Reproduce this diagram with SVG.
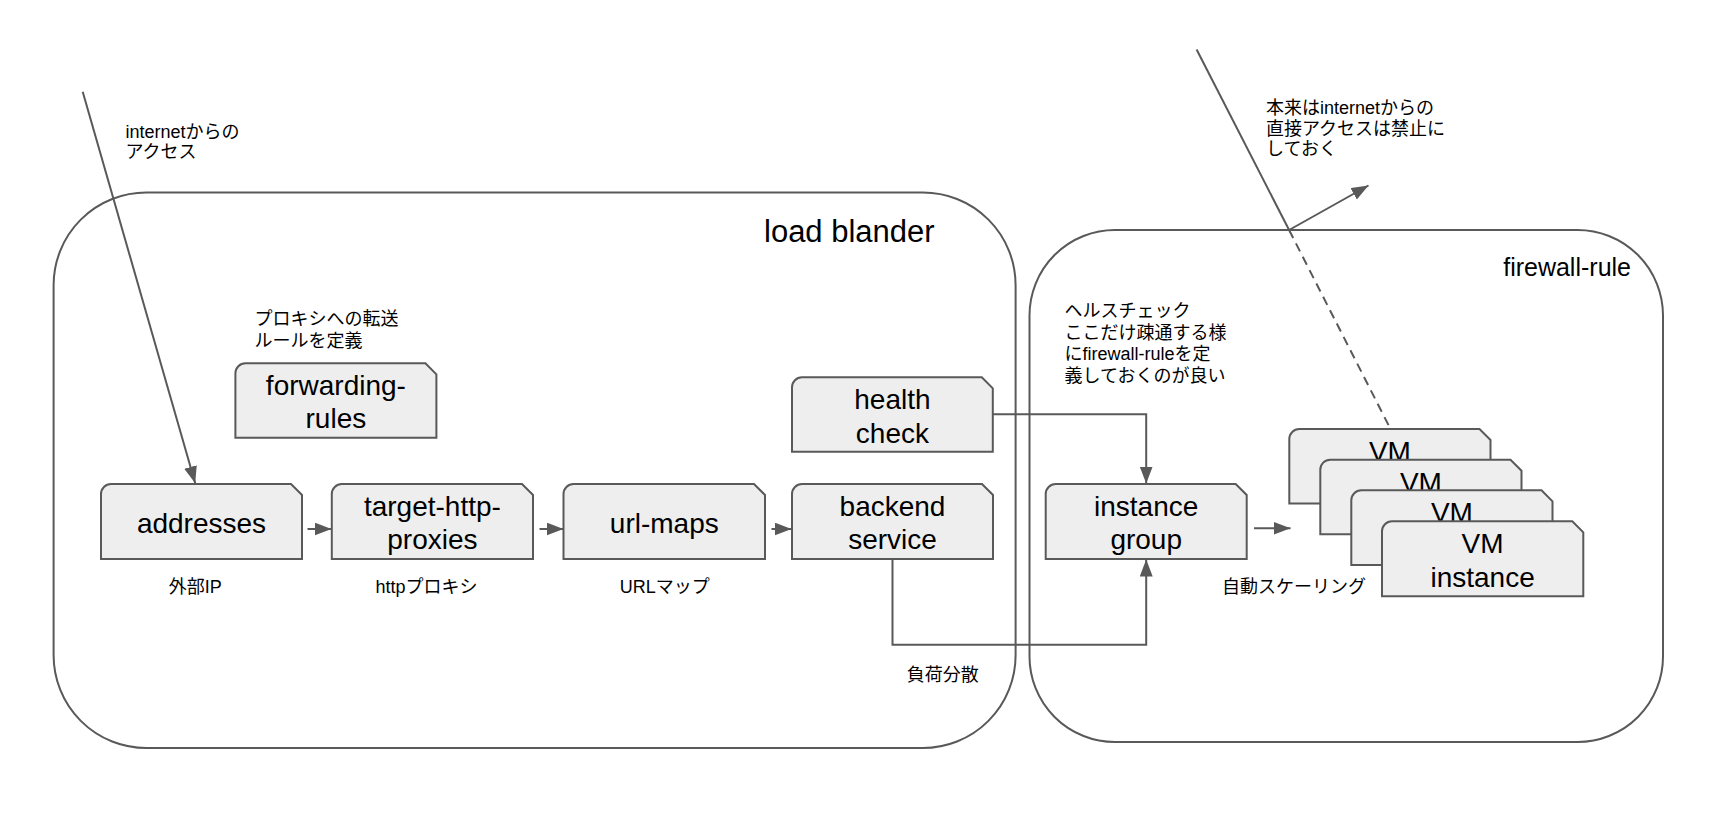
<svg xmlns="http://www.w3.org/2000/svg" width="1722" height="836" viewBox="0 0 1722 836">
<style>
.container{fill:none;stroke:#595959;stroke-width:2}
.node path{fill:#eeeeee;stroke:#595959;stroke-width:2}
.node text{font-family:"Liberation Sans",Arial,sans-serif;font-size:28px;fill:#000;text-anchor:middle}
.big{font-family:"Liberation Sans",Arial,sans-serif;fill:#000}
.note{font-family:"Liberation Sans","Noto Sans CJK JP",sans-serif;font-size:18px;fill:#000}
.mid{text-anchor:middle}
.conn{fill:none;stroke:#595959;stroke-width:2}
</style>
<defs>
<marker id="arrow" markerUnits="userSpaceOnUse" markerWidth="18" markerHeight="14" refX="17" refY="6.5" orient="auto">
<path d="M0,0 L17,6.5 L0,13 Z" fill="#595959"/>
</marker>
</defs>
<rect width="1722" height="836" fill="#ffffff"/>

<g id="load-blander">
<rect class="container" x="53.6" y="192.5" width="962" height="555.5" rx="92.7" ry="92.7"/>
<text class="big" x="764" y="242" font-size="31">load blander</text>
</g>

<g id="firewall-rule">
<rect class="container" x="1029.5" y="230" width="633.5" height="512" rx="85.5" ry="85.5"/>
<text class="big" x="1631" y="276" font-size="25" text-anchor="end">firewall-rule</text>
</g>

<g id="connectors">
<line class="conn" x1="82.7" y1="91.7" x2="195.2" y2="483.3" marker-end="url(#arrow)"/>
<line class="conn" x1="307.5" y1="529" x2="331.5" y2="529" marker-end="url(#arrow)"/>
<line class="conn" x1="539.5" y1="529" x2="563.5" y2="529" marker-end="url(#arrow)"/>
<line class="conn" x1="771.5" y1="529" x2="791.5" y2="529" marker-end="url(#arrow)"/>
<polyline class="conn" points="992.8,414.3 1146.2,414.3 1146.2,483.5" marker-end="url(#arrow)"/>
<polyline class="conn" points="892.5,559 892.5,644.7 1146.2,644.7 1146.2,559.5" marker-end="url(#arrow)"/>
<line class="conn" x1="1254" y1="528.3" x2="1290.5" y2="528.3" marker-end="url(#arrow)"/>
<line class="conn" x1="1196.6" y1="49.5" x2="1289.1" y2="230"/>
<line class="conn" x1="1289.1" y1="230" x2="1390" y2="428" stroke-dasharray="9 6"/>
<line class="conn" x1="1289.1" y1="230" x2="1368.5" y2="185.5" marker-end="url(#arrow)"/>
</g>

<g id="forwarding-rules" class="node">
<path d="M235.4,437.8 L235.4,373.3 A10,10 0 0 1 245.4,363.3 L425.4,363.3 L436.4,374.3 L436.4,437.8 Z"/>
<text x="335.9" y="395.3">forwarding-</text>
<text x="335.9" y="428.3">rules</text>
</g>

<g id="addresses" class="node">
<path d="M101,559 L101,494 A10,10 0 0 1 111,484 L291,484 L302,495 L302,559 Z"/>
<text x="201.5" y="532.7">addresses</text>
</g>

<g id="target-http-proxies" class="node">
<path d="M331.8,559 L331.8,494 A10,10 0 0 1 341.8,484 L522,484 L533,495 L533,559 Z"/>
<text x="432.4" y="516">target-http-</text>
<text x="432.4" y="549">proxies</text>
</g>

<g id="url-maps" class="node">
<path d="M563.5,559 L563.5,494 A10,10 0 0 1 573.5,484 L754,484 L765,495 L765,559 Z"/>
<text x="664.3" y="532.7">url-maps</text>
</g>

<g id="health-check" class="node">
<path d="M792,451.7 L792,387.3 A10,10 0 0 1 802,377.3 L981.8,377.3 L992.8,388.3 L992.8,451.7 Z"/>
<text x="892.4" y="409.3">health</text>
<text x="892.4" y="442.5">check</text>
</g>

<g id="backend-service" class="node">
<path d="M792,559 L792,494 A10,10 0 0 1 802,484 L982,484 L993,495 L993,559 Z"/>
<text x="892.5" y="516">backend</text>
<text x="892.5" y="549">service</text>
</g>

<g id="instance-group" class="node">
<path d="M1045.7,559 L1045.7,494 A10,10 0 0 1 1055.7,484 L1235.7,484 L1246.7,495 L1246.7,559 Z"/>
<text x="1146.2" y="516">instance</text>
<text x="1146.2" y="549">group</text>
</g>

<g id="vm-1" class="node">
<path d="M1289.3,503.5 L1289.3,439 A10,10 0 0 1 1299.3,429 L1479.5,429 L1490.5,440 L1490.5,503.5 Z"/>
<text x="1389.9" y="461">VM</text>
</g>

<g id="vm-2" class="node">
<path d="M1320.3,534.3 L1320.3,469.7 A10,10 0 0 1 1330.3,459.7 L1510.5,459.7 L1521.5,470.7 L1521.5,534.3 Z"/>
<text x="1420.9" y="491.7">VM</text>
</g>

<g id="vm-3" class="node">
<path d="M1351.3,565 L1351.3,500.3 A10,10 0 0 1 1361.3,490.3 L1541.5,490.3 L1552.5,501.3 L1552.5,565 Z"/>
<text x="1451.9" y="522.3">VM</text>
</g>

<g id="vm-4" class="node">
<path d="M1382,596.3 L1382,531.3 A10,10 0 0 1 1392,521.3 L1572.3,521.3 L1583.3,532.3 L1583.3,596.3 Z"/>
<text x="1482.6" y="552.7">VM</text>
<text x="1482.6" y="586.7">instance</text>
</g>

<g id="labels">
<text class="note" x="125.5" y="138">internetからの</text>
<text class="note" x="125.5" y="158">アクセス</text>
<text class="note" x="254.5" y="325">プロキシへの転送</text>
<text class="note" x="254.5" y="346.5">ルールを定義</text>
<text class="note" x="1266" y="113.5">本来はinternetからの</text>
<text class="note" x="1266" y="134.5">直接アクセスは禁止に</text>
<text class="note" x="1266" y="155">しておく</text>
<text class="note" x="1064.5" y="316.5">ヘルスチェック</text>
<text class="note" x="1064.5" y="338.5">ここだけ疎通する様</text>
<text class="note" x="1064.5" y="360">にfirewall-ruleを定</text>
<text class="note" x="1064.5" y="381.5">義しておくのが良い</text>
<text class="note mid" x="195.2" y="593">外部IP</text>
<text class="note mid" x="426.4" y="593">httpプロキシ</text>
<text class="note mid" x="664.8" y="593">URLマップ</text>
<text class="note mid" x="942.7" y="680.5">負荷分散</text>
<text class="note mid" x="1293.9" y="593">自動スケーリング</text>
</g>
</svg>
